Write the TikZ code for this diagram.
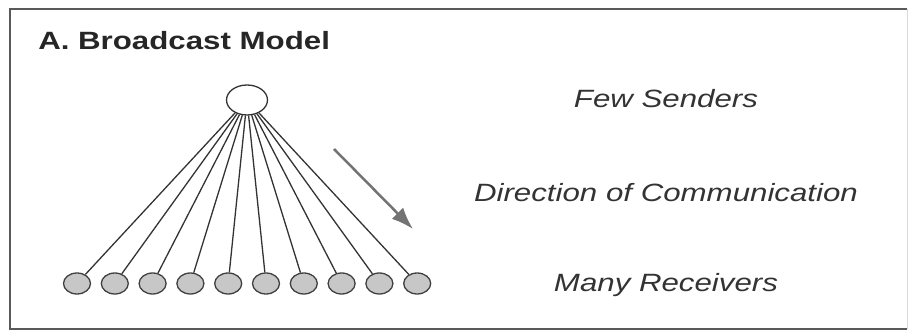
\documentclass[tikz,border=0pt]{standalone}
\usepackage{fontspec}
\setmainfont{Liberation Sans}
\usetikzlibrary{shapes.geometric}
\usetikzlibrary{arrows.meta}

\begin{document}
\begin{tikzpicture}[x=1pt,y=1pt,
  sender/.style={draw=black!80, line width=1.3pt, ellipse, inner sep=0pt,
    minimum width=41pt, minimum height=30pt},
  receiver/.style={draw=black!75, fill=black!22, line width=1.3pt, ellipse,
    inner sep=0pt, minimum width=27pt, minimum height=21pt},
  caption/.style={font=\fontsize{25}{30}\selectfont\itshape, text=black!80,
    xscale=1.25, anchor=base, inner sep=0pt}]

  \useasboundingbox (0,0) rectangle (912,331);

  % frame
  \draw[black!65, line width=2pt] (907,322) -- (10,322) -- (10,2) -- (907,2);
  \draw[black!15, line width=1pt] (907,322) -- (907,2);

  % title
  \node[anchor=base west, inner sep=0pt, xscale=1.25, text=black!85,
    font=\fontsize{25}{30}\selectfont\bfseries] (title) at (38,281) {A. Broadcast Model};

  % sender
  \node[sender] (sender) at (247,231) {};

  % receivers
  \foreach \i in {1,...,10} {
    \node[receiver] (recv\i) at ({77+37.8*(\i-1)},47.5) {};
    \draw[black!80, line width=1.3pt] (sender) -- (recv\i);
  }

  % direction
  \coordinate (dirfrom) at (334,182);
  \coordinate (dirto) at (413,102);
  \draw[-{Latex[length=22pt,width=16pt]}, black!55, line width=2.5pt] (dirfrom) -- (dirto);

  % labels
  \node[caption] (few) at (666,223) {Few Senders};
  \node[caption] (dir) at (666,129) {Direction of Communication};
  \node[caption] (many) at (666,39) {Many Receivers};
\end{tikzpicture}
\end{document}
